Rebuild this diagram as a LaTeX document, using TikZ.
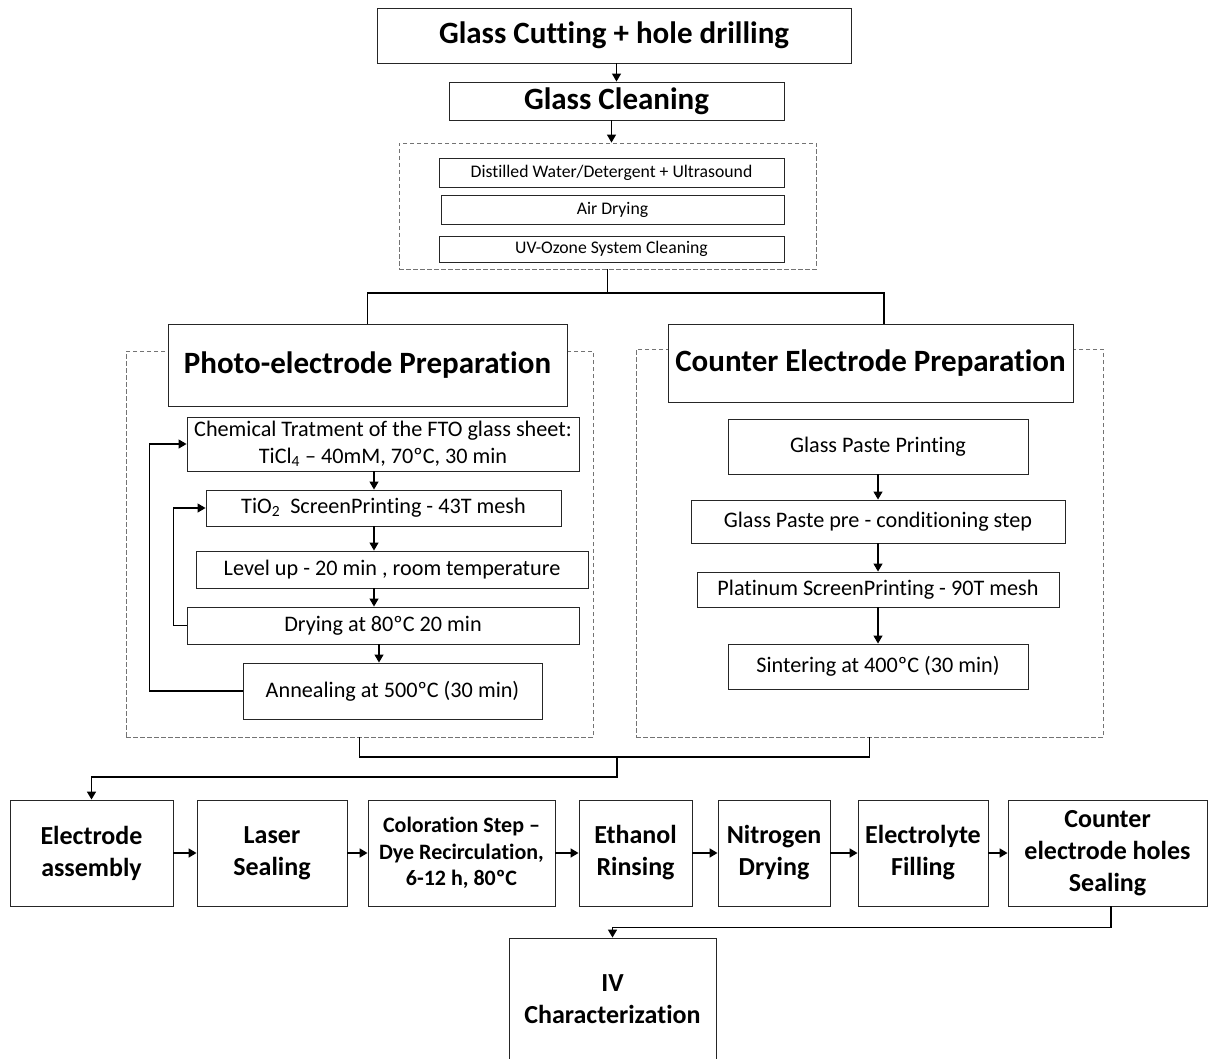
\documentclass[tikz,border=0pt]{standalone}
\usepackage{fontspec}
\setmainfont{Carlito}[Ligatures=CommonOff]
\usetikzlibrary{arrows.meta,calc}
\begin{document}
\begin{tikzpicture}[x=1pt,y=-1pt,
  box/.style={draw=black!85,line width=0.9pt,fill=white,inner sep=0pt,align=center,text=black},
  dbox/.style={draw=black!55,line width=0.8pt,dash pattern=on 4.5pt off 2.5pt,inner sep=0pt},
  arr/.style={-{Triangle[length=8pt,width=9pt]},line width=1.2pt,black},
  conn/.style={line width=1.6pt,black},
  big/.style={font=\fontsize{31}{37}\selectfont\bfseries},
  small/.style={font=\fontsize{17.7}{21}\selectfont},
  mid/.style={font=\fontsize{22.2}{26.7}\selectfont},
  row/.style={font=\fontsize{26}{32}\selectfont\bfseries},
]
\useasboundingbox (0,0) rectangle (1209,1059);
\clip (0,0) rectangle (1209,1059);
\fill[white] (0,0) rectangle (1209,1059);
% top
\node[box,big,minimum width=474,minimum height=55] (b1) at (614,35.5) {Glass Cutting + hole drilling};
\node[box,big,minimum width=335,minimum height=38] (b2) at (616.5,101) {Glass Cleaning};
\node[dbox,minimum width=417,minimum height=126] (clean) at (607.5,206) {};
\node[box,small,minimum width=345,minimum height=29] (c1) at (611.5,172.5) {Distilled Water/Detergent + Ultrasound};
\node[box,small,minimum width=343,minimum height=29] (c2) at (612.5,209.5) {Air Drying};
\node[box,small,minimum width=345,minimum height=26] (c3) at (611.5,249) {UV-Ozone System Cleaning};
\draw[arr] (b1.south -| b2) -- (b2.north);
\draw[arr] (b2.south -| c1) -- (c1 |- clean.north);
% dashed groups
\node[dbox,minimum width=467,minimum height=386] (ld) at (359.5,544) {};
\node[dbox,minimum width=467,minimum height=388] (rd) at (869.5,543) {};
\node[box,big,minimum width=399,minimum height=82] (pe) at (367.5,365) {Photo-electrode Preparation};
\node[box,big,minimum width=405,minimum height=78] (ce) at (870.5,363) {Counter Electrode Preparation};
\coordinate (j1) at (607.5,293);
\draw[conn] (clean.south) -- (j1);
\draw[conn] (pe.north) |- (j1) -| ([xshift=13.5pt]ce.north);
% left column
\coordinate (axL) at (374,0);
\coordinate (axL2) at (379,0);
\node[box,mid,minimum width=392,minimum height=54] (chem) at (383,444) {Chemical Tratment of the FTO glass sheet:\\TiCl\textsubscript{4} – 40mM, 70ºC, 30 min};
\node[box,mid,minimum width=355,minimum height=36] (tio) at (383.5,508) {TiO\textsubscript{2}\ \ ScreenPrinting - 43T mesh};
\node[box,mid,minimum width=392,minimum height=37] (lev) at (392,569.5) {Level up - 20 min , room temperature};
\node[box,mid,minimum width=392,minimum height=37] (dry) at (383,625.5) {Drying at 80ºC 20 min};
\node[box,mid,minimum width=299,minimum height=56] (ann) at (392.5,691) {Annealing at 500ºC (30 min)};
\draw[arr] (chem.south -| axL) -- (axL |- tio.north);
\draw[arr] (tio.south -| axL) -- (axL |- lev.north);
\draw[arr] (lev.south -| axL) -- (axL |- dry.north);
\draw[arr] (dry.south -| axL2) -- (axL2 |- ann.north);
\draw[arr] (dry.west) -- ++(-13,0) |- (tio.west);
\draw[arr] (ann.west) -- ++(-93,0) |- (chem.west);
% right column
\node[box,mid,minimum width=300,minimum height=55] (gpp) at (878,446.5) {Glass Paste Printing};
\node[box,mid,minimum width=374,minimum height=43] (gpc) at (878,521.5) {Glass Paste pre - conditioning step};
\node[box,mid,minimum width=362,minimum height=35] (pt) at (878,589.5) {Platinum ScreenPrinting - 90T mesh};
\node[box,mid,minimum width=300,minimum height=45] (sin) at (878,666.5) {Sintering at 400ºC (30 min)};
\draw[arr] (gpp.south) -- (gpc.north);
\draw[arr] (gpc.south) -- (pt.north);
\draw[arr] (pt.south) -- (sin.north);
% bottom row
\node[box,row,minimum width=163,minimum height=106] (ea) at (91.5,853) {Electrode\\assembly};
\node[box,row,minimum width=150,minimum height=106] (ls) at (272,853) {Laser\\Sealing};
\node[box,font=\fontsize{22}{26.7}\selectfont\bfseries,minimum width=187,minimum height=106] (col) at (461.5,853) {Coloration Step –\\Dye Recirculation,\\6-12 h, 80ºC};
\node[box,row,minimum width=113,minimum height=106] (eth) at (635.5,853) {Ethanol\\Rinsing};
\node[box,row,minimum width=112,minimum height=106] (nit) at (774,853) {Nitrogen\\Drying};
\node[box,row,minimum width=130,minimum height=106] (ele) at (923,853) {Electrolyte\\Filling};
\node[box,row,minimum width=199,minimum height=106] (cnt) at (1107.5,853) {Counter\\electrode holes\\Sealing};
\node[box,row,minimum width=207,minimum height=122] (iv) at (612.5,999) {IV\\Characterization};
\coordinate (j2) at (617,757);
\draw[conn] (ld.south) |- (j2) -| (rd.south);
\draw[arr,line width=1.6pt] (j2) -- ++(0,20) -| (ea.north);
\draw[arr,line width=1.6pt] (ea) -- (ls);
\draw[arr,line width=1.6pt] (ls) -- (col);
\draw[arr,line width=1.6pt] (col) -- (eth);
\draw[arr,line width=1.6pt] (eth) -- (nit);
\draw[arr,line width=1.6pt] (nit) -- (ele);
\draw[arr,line width=1.6pt] (ele) -- (cnt);
\draw[arr,line width=1.5pt] ([xshift=3.5pt]cnt.south) -- ++(0,21) -| (iv.north);
\end{tikzpicture}
\end{document}
